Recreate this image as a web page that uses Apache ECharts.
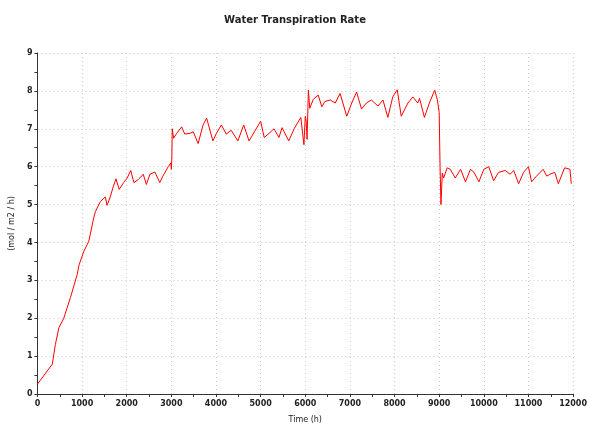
<!DOCTYPE html>
<html><head><meta charset="utf-8">
<script src="https://cdn.jsdelivr.net/npm/echarts@6/dist/echarts.min.js"></script>
<style>html,body{margin:0;padding:0;background:#fff}#c{width:590px;height:433px}</style>
</head><body><div id="c"></div>
<script>
const title = 'Water Transpiration Rate';
const xName = 'Time (h)';
const yName = '(mol / m2 / h)';
const times = [0,333,400,480,590,740,890,930,1040,1150,1260,1300,1410,1520,1560,1630,1700,1760,1830,1930,2010,2090,2160,2260,2370,2440,2520,2630,2740,2810,2930,2990,3000,3010,3020,3050,3120,3230,3300,3420,3490,3600,3710,3790,3930,4010,4120,4230,4340,4490,4620,4740,4860,5000,5080,5190,5300,5410,5480,5630,5750,5900,5970,6000,6020,6040,6070,6100,6180,6290,6370,6440,6560,6670,6780,6930,7040,7150,7260,7370,7480,7630,7740,7850,7960,8060,8150,8300,8410,8520,8560,8670,8780,8900,8960,9000,9020,9040,9070,9100,9180,9250,9360,9480,9590,9700,9780,9890,10000,10110,10220,10330,10480,10590,10670,10780,10890,11000,11070,11180,11330,11410,11480,11590,11670,11810,11930,11960];
const rates = [0.26,0.79,1.3,1.75,2.0,2.55,3.15,3.4,3.77,4.03,4.65,4.82,5.08,5.2,4.98,5.2,5.48,5.68,5.4,5.58,5.7,5.9,5.58,5.66,5.8,5.53,5.8,5.86,5.58,5.75,6.0,6.1,5.93,6.2,7.0,6.75,6.88,7.05,6.86,6.88,6.92,6.61,7.1,7.28,6.68,6.88,7.1,6.86,6.96,6.68,7.1,6.68,6.92,7.2,6.77,6.88,7.0,6.77,7.03,6.68,7.0,7.3,6.58,7.33,7.2,6.72,8.02,7.54,7.78,7.89,7.58,7.72,7.76,7.68,7.93,7.33,7.68,7.97,7.52,7.68,7.76,7.6,7.76,7.3,7.84,8.03,7.33,7.68,7.84,7.68,7.8,7.3,7.68,8.02,7.76,7.43,6.0,5.0,5.83,5.7,5.97,5.93,5.7,5.93,5.6,5.93,5.85,5.6,5.93,6.0,5.63,5.85,5.9,5.8,5.9,5.55,5.85,6.0,5.6,5.75,5.93,5.75,5.8,5.85,5.55,5.97,5.93,5.55];
const points = times.map((t, i) => [t, rates[i]]);
const chart = echarts.init(document.getElementById('c'), null, {renderer: 'canvas'});
const axisFont = {fontFamily: 'DejaVu Sans', fontSize: 8, color: '#222', fontWeight: 'bold'};
chart.setOption({
  animation: false,
  backgroundColor: '#fff',
  title: {text: title, left: 'center', top: 10, textStyle: {fontFamily: 'DejaVu Sans', fontSize: 10, fontWeight: 'bold', color: '#222'}},
  grid: {left: 37, right: 16, top: 53, bottom: 39},
  xAxis: {
    type: 'value', min: 0, max: 12000, interval: 1000,
    name: xName, nameLocation: 'middle', nameGap: 22,
    nameTextStyle: {fontFamily: 'DejaVu Sans', fontSize: 8, color: '#222'},
    axisLine: {lineStyle: {color: '#333', width: 1}},
    axisTick: {show: true, inside: false, length: 3, lineStyle: {color: '#333'}},
    minorTick: {show: true, splitNumber: 2, length: 3, lineStyle: {color: '#333'}},
    axisLabel: Object.assign({margin: 6, formatter: v => String(v)}, axisFont),
    splitLine: {show: true, lineStyle: {color: '#c8c8c8', type: [1, 3], width: 1}}
  },
  yAxis: {
    type: 'value', min: 0, max: 9, interval: 1,
    name: yName, nameLocation: 'middle', nameGap: 20, nameRotate: 90,
    nameTextStyle: {fontFamily: 'DejaVu Sans', fontSize: 8, color: '#222'},
    axisLine: {show: true, lineStyle: {color: '#333', width: 1}},
    axisTick: {show: true, length: 3, lineStyle: {color: '#333'}},
    minorTick: {show: true, splitNumber: 2, length: 3, lineStyle: {color: '#333'}},
    axisLabel: Object.assign({margin: 5}, axisFont),
    splitLine: {show: true, lineStyle: {color: '#c8c8c8', type: [1, 3], width: 1}}
  },
  series: [{
    type: 'line', data: points, showSymbol: false, symbol: 'none',
    lineStyle: {color: '#ff0000', width: 1}, itemStyle: {color: '#ff0000'}
  }]
});
</script></body></html>
